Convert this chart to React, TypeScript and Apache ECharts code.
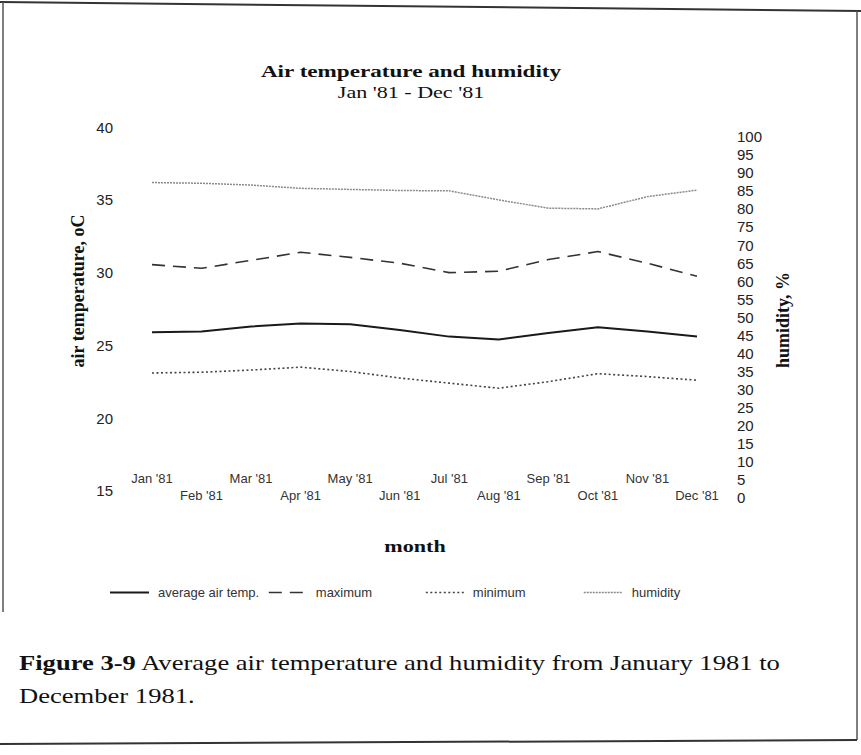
import React, { useEffect, useRef } from "react";
import * as echarts from "echarts";

const months = ["Jan '81", "Feb '81", "Mar '81", "Apr '81", "May '81", "Jun '81", "Jul '81", "Aug '81", "Sep '81", "Oct '81", "Nov '81", "Dec '81"];
const avgTemp = [25.9, 25.95, 26.3, 26.5, 26.45, 26.05, 25.6, 25.4, 25.85, 26.25, 25.95, 25.6];
const maxTemp = [30.55, 30.3, 30.85, 31.4, 31.05, 30.65, 30.0, 30.1, 30.9, 31.45, 30.65, 29.75];
const minTemp = [23.1, 23.15, 23.3, 23.5, 23.2, 22.75, 22.4, 22.05, 22.5, 23.05, 22.85, 22.6];
const humidity = [87.3, 87.1, 86.6, 85.7, 85.4, 85.1, 85.0, 82.5, 80.2, 80.0, 83.4, 85.2];
const tempMin = 15, tempMax = 40, tempStep = 5;
const humMin = 0, humMax = 100, humStep = 5;
const seriesNames = ["average air temp.", "maximum", "minimum", "humidity"];

const SANS = '"Liberation Sans", Arial, sans-serif';
const SERIF = '"Liberation Serif", "Times New Roman", serif';

const styles = [
  { color: "#1a1a1a", width: 2, type: "solid" as any },
  { color: "#333", width: 1.6, type: [13, 8] },
  { color: "#444", width: 1.6, type: [2, 2.5] },
  { color: "#8a8a8a", width: 1.5, type: [2, 1] },
];

export default function App() {
  const ref = useRef<HTMLDivElement>(null);
  useEffect(() => {
    document.body.style.margin = "0";
    const chart = echarts.init(ref.current!, null, { renderer: "svg" });
    const legendText = { fontFamily: SANS, fontSize: 13, color: "#333" };
    const mkLegend = (i: number, left: number, w: number, pad: number) => ({
      data: [seriesNames[i]], left, top: 586, padding: 0, itemWidth: w, itemHeight: 14,
      itemStyle: { opacity: 0 },
      lineStyle: { ...styles[i] },
      textStyle: { ...legendText, padding: [0, 0, 0, pad] },
    });
    const option: any = {
      animation: false,
      backgroundColor: "#fff",
      grid: [
        { left: 152, right: 164, top: 127.3, bottom: 264.3 },
        { left: 152, right: 164, top: 136.7, bottom: 257.3 },
      ],
      xAxis: [
        {
          type: "category", gridIndex: 0, data: months, boundaryGap: false,
          axisLine: { show: false }, axisTick: { show: false },
          axisLabel: {
            interval: 0, margin: -21, fontFamily: SANS, fontSize: 13, color: "#333", lineHeight: 17,
            formatter: (v: string, i: number) => (i % 2 === 1 ? "\n" + v : v),
          },
        },
        {
          type: "category", gridIndex: 1, data: months, boundaryGap: false, show: false,
        },
      ],
      yAxis: [
        {
          type: "value", gridIndex: 0, min: tempMin, max: tempMax, interval: tempStep, position: "left",
          axisLine: { show: false }, axisTick: { show: false }, splitLine: { show: false },
          axisLabel: { margin: 39, fontFamily: SANS, fontSize: 15, color: "#222" },
        },
        {
          type: "value", gridIndex: 1, min: humMin, max: humMax, interval: humStep, position: "right",
          axisLine: { show: false }, axisTick: { show: false }, splitLine: { show: false },
          axisLabel: { margin: 40, fontFamily: SANS, fontSize: 15, color: "#222" },
        },
      ],
      legend: [
        mkLegend(0, 109, 39, 4),
        mkLegend(1, 268, 34, 8),
        mkLegend(2, 425, 38, 4),
        mkLegend(3, 583, 38, 5),
      ],
      series: [
        { name: seriesNames[0], type: "line", xAxisIndex: 0, yAxisIndex: 0, data: avgTemp, symbol: "none", color: styles[0].color, lineStyle: { ...styles[0] } },
        { name: seriesNames[1], type: "line", xAxisIndex: 0, yAxisIndex: 0, data: maxTemp, symbol: "none", color: styles[1].color, lineStyle: { ...styles[1] } },
        { name: seriesNames[2], type: "line", xAxisIndex: 0, yAxisIndex: 0, data: minTemp, symbol: "none", color: styles[2].color, lineStyle: { ...styles[2] } },
        { name: seriesNames[3], type: "line", xAxisIndex: 1, yAxisIndex: 1, data: humidity, symbol: "none", color: styles[3].color, lineStyle: { ...styles[3] } },
      ],
      graphic: [
        { type: "line", shape: { x1: 0, y1: 2, x2: 861, y2: 11 }, style: { stroke: "#333", lineWidth: 2 } },
        { type: "line", shape: { x1: 3, y1: 2, x2: 3, y2: 612 }, style: { stroke: "#555", lineWidth: 1.5 } },
        { type: "line", shape: { x1: 857, y1: 11, x2: 857, y2: 740 }, style: { stroke: "#555", lineWidth: 1.5 } },
        { type: "line", shape: { x1: 0, y1: 744, x2: 857, y2: 740 }, style: { stroke: "#333", lineWidth: 2 } },
        {
          type: "text", x: 411, y: 71, scaleX: 1.36,
          style: { text: "Air temperature and humidity", font: `bold 17px ${SERIF}`, fill: "#111", textAlign: "center", textVerticalAlign: "middle" },
        },
        {
          type: "text", x: 411, y: 93, scaleX: 1.38,
          style: { text: "Jan '81 - Dec '81", font: `16px ${SERIF}`, fill: "#111", textAlign: "center", textVerticalAlign: "middle" },
        },
        {
          type: "text", x: 78, y: 291, rotation: Math.PI / 2,
          style: { text: "air temperature, oC", font: `bold 18px ${SERIF}`, fill: "#111", textAlign: "center", textVerticalAlign: "middle" },
        },
        {
          type: "text", x: 783, y: 320, rotation: Math.PI / 2,
          style: { text: "humidity, %", font: `bold 18px ${SERIF}`, fill: "#111", textAlign: "center", textVerticalAlign: "middle" },
        },
        {
          type: "text", x: 415, y: 546, scaleX: 1.3,
          style: { text: "month", font: `bold 17px ${SERIF}`, fill: "#111", textAlign: "center", textVerticalAlign: "middle" },
        },
        {
          type: "text", x: 19, y: 663, scaleX: 1.33,
          style: {
            text: "{b|Figure 3-9} Average air temperature and humidity from January 1981 to",
            font: `20px ${SERIF}`, fill: "#111", textAlign: "left", textVerticalAlign: "middle",
            rich: { b: { font: `bold 20px ${SERIF}`, fill: "#111" } },
          },
        },
        {
          type: "text", x: 19, y: 696, scaleX: 1.33,
          style: { text: "December 1981.", font: `20px ${SERIF}`, fill: "#111", textAlign: "left", textVerticalAlign: "middle" },
        },
      ],
    };
    chart.setOption(option);
    return () => chart.dispose();
  }, []);
  return <div ref={ref} style={{ width: 861, height: 755, background: "#fff" }} />;
}
